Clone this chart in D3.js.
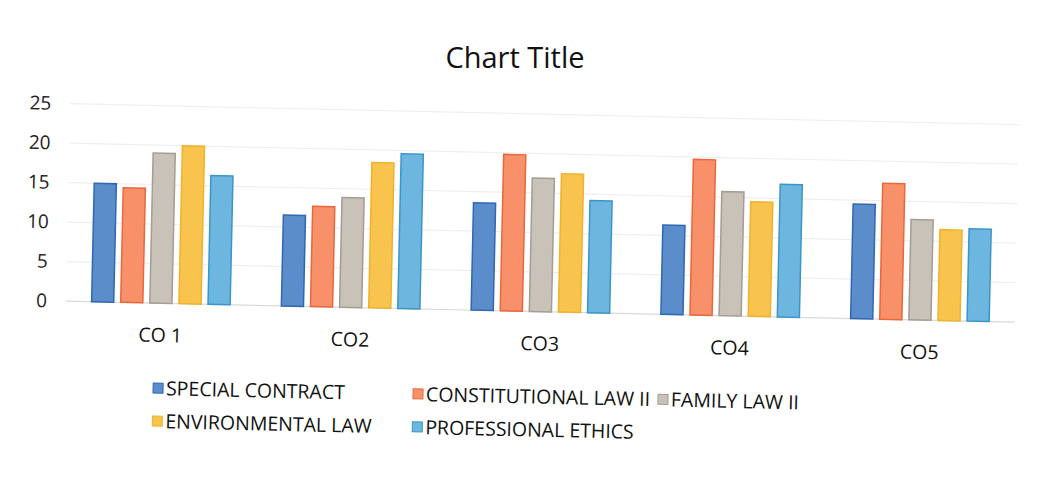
<!DOCTYPE html>
<html>
<head>
<meta charset="utf-8">
<script src="https://cdn.jsdelivr.net/npm/d3@7"></script>
<style>
  body { margin: 0; background: #fff; }
  svg { display: block; }
</style>
</head>
<body>
<div id="chart"></div>
<script>
var width = 1038;
var height = 479;

var categories = ["CO 1", "CO2", "CO3", "CO4", "CO5"];
var seriesNames = ["SPECIAL CONTRACT", "CONSTITUTIONAL LAW II", "FAMILY LAW II", "ENVIRONMENTAL LAW", "PROFESSIONAL ETHICS"];
var specialContract = [15, 11.5, 13.6, 11.3, 14.5];
var constitutionalLaw = [14.5, 12.7, 19.8, 19.7, 17.2];
var familyLaw = [19, 13.9, 16.9, 15.7, 12.7];
var environmentalLaw = [20, 18.4, 17.5, 14.5, 11.5];
var professionalEthics = [16.3, 19.6, 14.2, 16.8, 11.7];
var yTicks = [0, 5, 10, 15, 20, 25];

var seriesValues = [specialContract, constitutionalLaw, familyLaw, environmentalLaw, professionalEthics];
var fills = ["#5b8dcb", "#f8916a", "#c8c2b9", "#f9c44e", "#6cb6df"];
var strokes = ["#2f67b3", "#e8673c", "#a59c92", "#efb22c", "#3c95c9"];

var svg = d3.select("#chart")
            .append("svg")
            .attr("width", width)
            .attr("height", height)
            .style("font-family", "'Open Sans', sans-serif");

svg.append("text")
   .attr("x", 515)
   .attr("y", 68)
   .attr("text-anchor", "middle")
   .attr("font-size", "29px")
   .attr("fill", "#111")
   .text("Chart Title");

// la foto è un po' storta, tutto il grafico ruota leggermente
var g = svg.append("g")
           .attr("transform", "rotate(1.27, 60, 301)");

var x0 = d3.scaleBand()
           .domain(categories)
           .range([66, 1015])
           .paddingInner(0.27)
           .paddingOuter(0.135);

var x1 = d3.scaleBand()
           .domain(seriesNames)
           .range([0, x0.bandwidth()])
           .paddingInner(0.24);

var y = d3.scaleLinear()
          .domain([0, 25])
          .range([301, 103.5]);

// griglia
g.append("g")
 .selectAll("line")
 .data(yTicks)
 .enter()
 .append("line")
 .attr("x1", 66)
 .attr("x2", 1015)
 .attr("y1", function(d) { return y(d); })
 .attr("y2", function(d) { return y(d); })
 .attr("stroke", function(d) { return d === 0 ? "#d9d9d9" : "#efefef"; })
 .attr("stroke-width", 1.2);

// etichette asse y
var yAxis = d3.axisLeft(y).tickValues(yTicks).tickSize(0).tickPadding(0);
var gy = g.append("g")
          .attr("transform", "translate(47,0)")
          .call(yAxis);
gy.select(".domain").remove();
gy.selectAll("text")
  .attr("font-size", "19px")
  .attr("font-family", "'Open Sans', sans-serif")
  .attr("fill", "#222");

// barre
var groups = g.append("g")
              .selectAll("g")
              .data(categories)
              .enter()
              .append("g")
              .attr("transform", function(d) { return "translate(" + x0(d) + ",0)"; });

groups.selectAll("rect")
      .data(function(d, i) {
          return seriesNames.map(function(s, j) { return { name: s, idx: j, value: seriesValues[j][i] }; });
      })
      .enter()
      .append("rect")
      .attr("x", function(d) { return x1(d.name); })
      .attr("y", function(d) { return y(d.value); })
      .attr("width", x1.bandwidth())
      .attr("height", function(d) { return y(0) - y(d.value); })
      .attr("fill", function(d) { return fills[d.idx]; })
      .attr("stroke", function(d) { return strokes[d.idx]; })
      .attr("stroke-width", 1.5);

// etichette asse x
var xAxis = d3.axisBottom(x0).tickSize(0).tickPadding(0);
var gx = g.append("g")
          .attr("transform", "translate(0,326)")
          .call(xAxis);
gx.select(".domain").remove();
gx.selectAll("text")
  .attr("font-size", "19.5px")
  .attr("font-family", "'Open Sans', sans-serif")
  .attr("fill", "#111");

// legenda
var legendX = [155, 415, 660];
var legendY = [393, 426];
var legend = g.append("g")
              .selectAll("g")
              .data(seriesNames)
              .enter()
              .append("g")
              .attr("transform", function(d, i) {
                  return "translate(" + legendX[i % 3] + "," + legendY[Math.floor(i / 3)] + ")";
              });

legend.append("rect")
      .attr("x", 0)
      .attr("y", -12)
      .attr("width", 10)
      .attr("height", 10)
      .attr("fill", function(d, i) { return fills[i]; })
      .attr("stroke", function(d, i) { return strokes[i]; });

legend.append("text")
      .attr("x", 13)
      .attr("y", 0)
      .attr("font-size", "19.5px")
      .attr("fill", "#111")
      .text(function(d) { return d; });
</script>
</body>
</html>
